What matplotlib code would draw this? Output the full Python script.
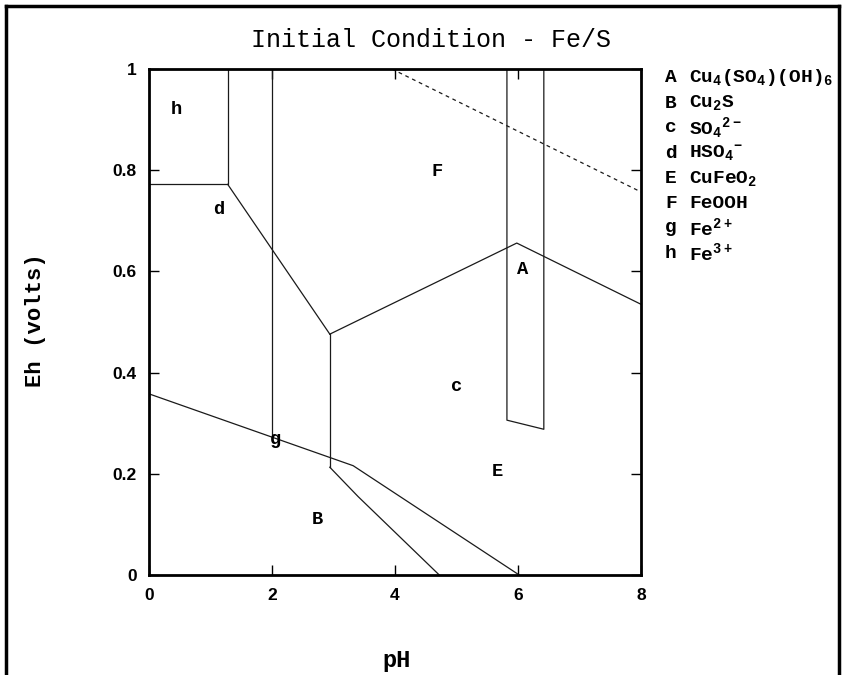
import matplotlib
matplotlib.use("Agg")
import matplotlib.pyplot as plt
from matplotlib.lines import Line2D

# region boundaries (pH, Eh)
h_box_ph = [0.0, 1.28, 1.28]
h_box_eh = [0.772, 0.772, 1.0]
d_line_ph = [1.28, 2.94]
d_line_eh = [0.772, 0.476]
g_vert_ph = [2.0, 2.0]
g_vert_eh = [1.0, 0.277]
c_vert_ph = [2.94, 2.94]
c_vert_eh = [0.476, 0.213]
fc_line_ph = [2.94, 5.98, 8.0]
fc_line_eh = [0.476, 0.656, 0.535]
a_box_ph = [5.82, 5.82, 6.42, 6.42]
a_box_eh = [1.0, 0.306, 0.288, 1.0]
low_line_ph = [0.0, 3.32, 6.02]
low_line_eh = [0.358, 0.216, 0.0]
b_line_ph = [2.94, 3.40, 4.72]
b_line_eh = [0.213, 0.155, 0.0]
water_ph = [3.95, 8.0]
water_eh = [1.0, 0.757]

# region labels
labels = ["h", "d", "F", "A", "c", "E", "g", "B"]
label_ph = [0.44, 1.14, 4.69, 6.07, 5.00, 5.67, 2.06, 2.74]
label_eh = [0.920, 0.723, 0.797, 0.604, 0.373, 0.204, 0.268, 0.110]

# key on the right
key_letters = ["A", "B", "c", "d", "E", "F", "g", "h"]
key_species = [r"Cu$_4$(SO$_4$)(OH)$_6$", r"Cu$_2$S", r"SO$_4$$^{2-}$",
               r"HSO$_4$$^{-}$", r"CuFeO$_2$", "FeOOH", r"Fe$^{2+}$", r"Fe$^{3+}$"]

xticks = [0, 2, 4, 6, 8]
yticks = [0, 0.2, 0.4, 0.6, 0.8, 1.0]
ytick_labels = ["0", "0.2", "0.4", "0.6", "0.8", "1"]

mono = "Liberation Mono"
plt.rcParams["mathtext.default"] = "regular"

W, H = 843, 675
fig = plt.figure(figsize=(W / 100, H / 100), dpi=100)
ax = fig.add_axes([149 / W, 1 - 575 / H, 492 / W, 506 / H])

lc = "#1a1a1a"
lw = 0.9
for xs, ys in [(h_box_ph, h_box_eh), (d_line_ph, d_line_eh), (g_vert_ph, g_vert_eh),
               (c_vert_ph, c_vert_eh), (fc_line_ph, fc_line_eh), (a_box_ph, a_box_eh),
               (low_line_ph, low_line_eh), (b_line_ph, b_line_eh)]:
    ax.plot(xs, ys, color=lc, lw=lw)
ax.plot(water_ph, water_eh, color=lc, lw=0.9, dashes=(3, 3))

for t, x, y in zip(labels, label_ph, label_eh):
    ax.text(x, y, t, family=mono, weight="bold", fontsize=13.5, ha="center", va="center")

ax.set_xlim(0, 8)
ax.set_ylim(0, 1)
ax.set_xticks(xticks)
ax.set_yticks(yticks)
ax.set_yticklabels(ytick_labels)
ax.tick_params(direction="in", top=True, right=True, length=7, width=1, pad=9,
               labelsize=12.5)
for lab in ax.get_xticklabels() + ax.get_yticklabels():
    lab.set_family("Liberation Sans")
    lab.set_weight("bold")
for s in ax.spines.values():
    s.set_linewidth(2)

fig.text(431 / W, 1 - 40 / H, "Initial Condition - Fe/S", family=mono,
         fontsize=18, ha="center", va="center")
fig.text(397 / W, 1 - 660 / H, "pH", family=mono, weight="bold", fontsize=17,
         ha="center", va="center")
fig.text(36 / W, 1 - 320 / H, "Eh (volts)", family=mono, weight="bold", fontsize=16,
         rotation=90, ha="center", va="center")

for i, (k, s) in enumerate(zip(key_letters, key_species)):
    y = 1 - (78 + i * 25) / H
    fig.text(665 / W, y, k, family=mono, weight="bold", fontsize=14, va="center")
    fig.text(689 / W, y, s, family=mono, weight="bold", fontsize=14, va="center")

# outer frame
for xs, ys in [([6, 6], [H, 6]), ([6, 839], [6, 6]), ([839, 839], [6, H])]:
    fig.add_artist(Line2D([x / W for x in xs], [1 - y / H for y in ys],
                          color="black", lw=2.5))

fig.savefig("out.png", dpi=100)
